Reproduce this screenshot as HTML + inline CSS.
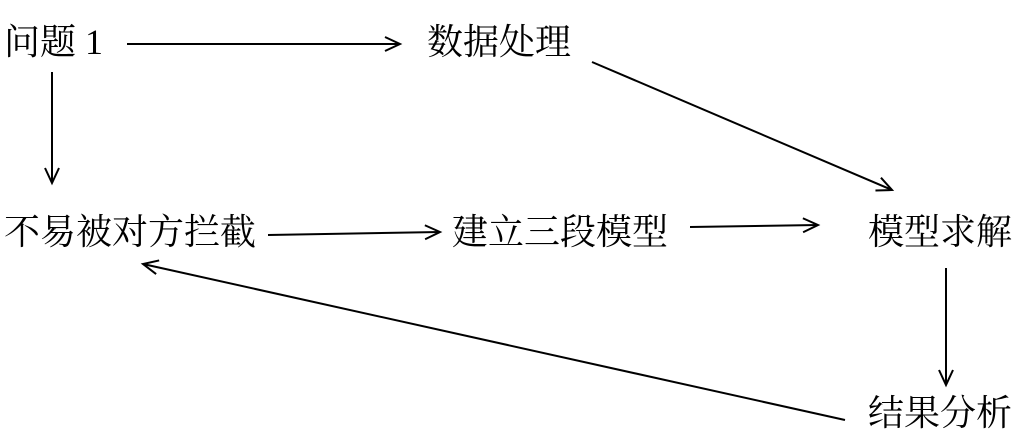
<!DOCTYPE html>
<html><head><meta charset="utf-8"><style>
html,body{margin:0;padding:0;background:#fff;}
#c{position:relative;width:1028px;height:446px;overflow:hidden;}
.t{position:absolute;font-family:"Liberation Serif","Noto Serif CJK SC",serif;font-size:36px;line-height:40px;color:#000;white-space:nowrap;}
svg{position:absolute;left:0;top:0;}
</style></head><body><div id="c">
<svg width="1028" height="446">
<defs><marker id="a" markerWidth="20" markerHeight="20" refX="16" refY="8" orient="auto" markerUnits="userSpaceOnUse">
<polyline points="1,1 16,8 1,15" fill="none" stroke="#000" stroke-width="2"/></marker></defs>
<g stroke="#000" stroke-width="2" fill="none">
<line x1="127" y1="44" x2="400" y2="44" marker-end="url(#a)"/>
<line x1="52" y1="72" x2="52" y2="183" marker-end="url(#a)"/>
<line x1="592" y1="62" x2="892" y2="190" marker-end="url(#a)"/>
<line x1="268" y1="235" x2="440" y2="232" marker-end="url(#a)"/>
<line x1="690" y1="227" x2="818" y2="225" marker-end="url(#a)"/>
<line x1="946" y1="268" x2="946" y2="385" marker-end="url(#a)"/>
<line x1="845" y1="420" x2="143" y2="264" marker-end="url(#a)"/>
</g></svg>
<div class="t" style="left:4px;top:22px">问题 1</div>
<div class="t" style="left:427px;top:22px">数据处理</div>
<div class="t" style="left:4px;top:212px">不易被对方拦截</div>
<div class="t" style="left:452px;top:212px">建立三段模型</div>
<div class="t" style="left:868px;top:212px">模型求解</div>
<div class="t" style="left:868px;top:393px">结果分析</div>
</div></body></html>
